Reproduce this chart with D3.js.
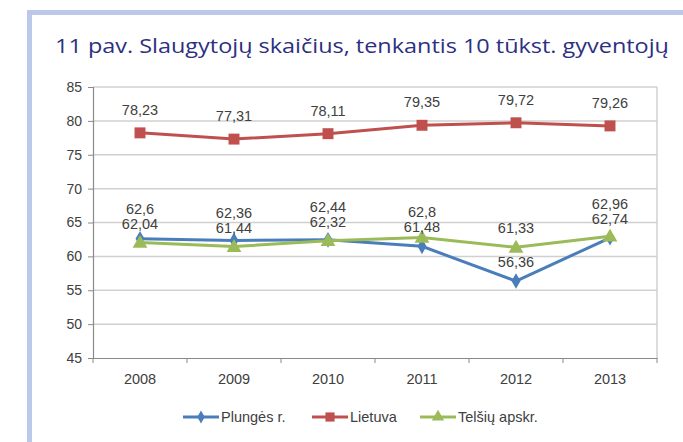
<!DOCTYPE html>
<html><head><meta charset="utf-8">
<script src="https://cdn.jsdelivr.net/npm/d3@7"></script>
<style>html,body{margin:0;padding:0;background:#fff;}svg{display:block;}</style>
</head><body>
<script>
const title = "11 pav. Slaugytojų skaičius, tenkantis 10 tūkst. gyventojų";
const years = ["2008","2009","2010","2011","2012","2013"];
const seriesNames = ["Plungės r.","Lietuva","Telšių apskr."];
const plunges = [62.6, 62.36, 62.44, 61.48, 56.36, 62.74];
const lietuva = [78.23, 77.31, 78.11, 79.35, 79.72, 79.26];
const telsiu = [62.04, 61.44, 62.32, 62.8, 61.33, 62.96];
const yTicks = [45,50,55,60,65,70,75,80,85];

const W = 683, H = 442;
const svg = d3.select("body").append("svg").attr("width", W).attr("height", H);
const frame = "#bcc8e9";
svg.append("rect").attr("x",27).attr("y",10).attr("width",W-27).attr("height",5).attr("fill",frame);
svg.append("rect").attr("x",27).attr("y",10).attr("width",5).attr("height",H-10).attr("fill",frame);

svg.append("text").attr("x",55).attr("y",53).text(title)
  .attr("font-family","'Open Sans', sans-serif").attr("font-size",20).attr("fill","#2d3081")
  .attr("textLength",614).attr("lengthAdjust","spacingAndGlyphs");

const L = 93, R = 657, T = 87, B = 358;
const x = d3.scaleBand().domain(years).range([L, R]);
const y = d3.scaleLinear().domain([45, 85]).range([B, T]);
const font = "'Liberation Sans', Arial, sans-serif";
const txt = "#404040";

svg.append("g").selectAll("line").data(yTicks.slice(1)).join("line")
  .attr("x1", L).attr("x2", R).attr("y1", d=>y(d)).attr("y2", d=>y(d))
  .attr("stroke","#d0d0d0").attr("stroke-width",1.5);
svg.append("line").attr("x1",R).attr("x2",R).attr("y1",T).attr("y2",B).attr("stroke","#d0d0d0").attr("stroke-width",1.5);

const ya = svg.append("g").attr("transform",`translate(${L},0)`)
  .call(d3.axisLeft(y).tickValues(yTicks).tickSize(5).tickPadding(6).tickFormat(d3.format("d")));
ya.select(".domain").attr("stroke","#8a8a8a").attr("stroke-width",1.2);
ya.selectAll(".tick line").attr("stroke","#8a8a8a");
ya.selectAll("text").attr("font-family",font).attr("font-size",14).attr("fill",txt);

const xa = svg.append("g").attr("transform",`translate(0,${B})`)
  .call(d3.axisBottom(x).tickSize(0).tickPadding(16));
xa.select(".domain").attr("stroke","#8a8a8a").attr("stroke-width",1.2);
xa.selectAll("text").attr("font-family",font).attr("font-size",14.5).attr("fill",txt);
const bounds = years.map(d=>x(d)).concat([R]);
xa.selectAll(".bt").data(bounds).join("line").attr("class","bt")
  .attr("x1",d=>d).attr("x2",d=>d).attr("y1",0).attr("y2",5).attr("stroke","#8a8a8a");

const series = [
  {name: seriesNames[0], values: plunges, color: "#4a7ebb", marker: d3.symbolDiamond, size: 70},
  {name: seriesNames[1], values: lietuva, color: "#c0504d", marker: d3.symbolSquare, size: 120},
  {name: seriesNames[2], values: telsiu, color: "#9bbb59", marker: d3.symbolTriangle, size: 95}
];
const cx = d => x(d) + x.bandwidth()/2;
const line = d3.line().x(d=>cx(d.year)).y(d=>y(d.v));

series.forEach(s => {
  const pts = years.map((yr,i)=>({year: yr, v: s.values[i]}));
  const g = svg.append("g");
  g.append("path").datum(pts).attr("d", line).attr("fill","none")
    .attr("stroke", s.color).attr("stroke-width", 3);
  g.selectAll("path.m").data(pts).join("path").attr("class","m")
    .attr("d", d3.symbol().type(s.marker).size(s.size))
    .attr("transform", d=>`translate(${cx(d.year)},${y(d.v) + (s.marker===d3.symbolTriangle?1:0)})`)
    .attr("fill", s.color);
});

const labels = [];
years.forEach((yr,i) => {
  labels.push({year: yr, v: lietuva[i], y: y(lietuva[i]) - 18});
  const a = {year: yr, v: plunges[i], y: y(plunges[i]) - 14};
  const b = {year: yr, v: telsiu[i], y: y(telsiu[i]) - 14};
  const hi = a.v >= b.v ? a : b, lo = a.v >= b.v ? b : a;
  if (lo.y - hi.y < 15) hi.y = lo.y - 15;
  labels.push(a, b);
});
svg.append("g").selectAll("text").data(labels).join("text")
  .attr("x", d=>cx(d.year)).attr("y", d=>d.y)
  .attr("text-anchor","middle").attr("font-family",font).attr("font-size",14.5).attr("fill",txt)
  .text(d => String(d.v).replace(".", ","));

const legX = [183, 312, 420];
series.forEach((s,i) => {
  const g = svg.append("g").attr("transform",`translate(${legX[i]},417)`);
  g.append("line").attr("x1",0).attr("x2",36).attr("stroke",s.color).attr("stroke-width",3);
  g.append("path").attr("d", d3.symbol().type(s.marker).size(s.size*0.7)).attr("transform","translate(18,0)").attr("fill",s.color);
  g.append("text").attr("x",38).attr("y",5).attr("font-family",font).attr("font-size",14.5).attr("fill",txt).text(s.name);
});
</script>
</body></html>
